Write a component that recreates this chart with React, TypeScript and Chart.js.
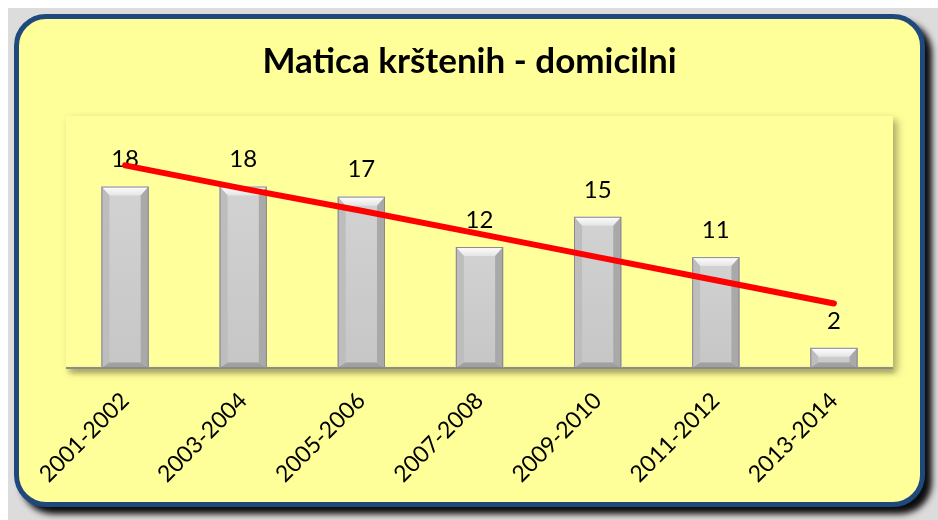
import React, { useEffect, useRef } from "react";
import { Chart, registerables } from "chart.js";

Chart.register(...registerables);

const titleText = "Matica krštenih - domicilni";
const categories = ["2001-2002", "2003-2004", "2005-2006", "2007-2008", "2009-2010", "2011-2012", "2013-2014"];
const values = [18, 18, 17, 12, 15, 11, 2];
const trend = [20.1, 17.8, 15.6, 13.3, 11.0, 8.7, 6.4];
const yMax = 25;

const FONT = "Lato, 'Open Sans', sans-serif";

const titlePlugin = {
  id: "centerTitle",
  afterDraw(chart: any) {
    const ctx = chart.ctx;
    ctx.save();
    ctx.fillStyle = "#000";
    ctx.font = `bold 35px ${FONT}`;
    ctx.textAlign = "center";
    ctx.textBaseline = "middle";
    ctx.fillText(titleText, chart.width / 2, 43);
    ctx.restore();
  },
};

const plotBgPlugin = {
  id: "plotBg",
  beforeDatasetsDraw(chart: any) {
    const { ctx, chartArea: a } = chart;
    ctx.save();
    ctx.shadowColor = "rgba(0,0,0,0.35)";
    ctx.shadowBlur = 8;
    ctx.shadowOffsetX = 4;
    ctx.shadowOffsetY = 4;
    ctx.fillStyle = "#ffff9c";
    ctx.fillRect(a.left, a.top, a.right - a.left, a.bottom - a.top);
    ctx.restore();
    ctx.save();
    ctx.shadowColor = "rgba(0,0,0,0.35)";
    ctx.shadowBlur = 5;
    ctx.shadowOffsetX = 2;
    ctx.shadowOffsetY = 3;
    ctx.strokeStyle = "#8c8c8c";
    ctx.lineWidth = 2;
    ctx.beginPath();
    ctx.moveTo(a.left, a.bottom);
    ctx.lineTo(a.right, a.bottom);
    ctx.stroke();
    ctx.restore();
  },
};

const bevelPlugin = {
  id: "bevel",
  afterDatasetDraw(chart: any, args: any) {
    const meta = args.meta;
    if (meta.type !== "bar") return;
    const ctx = chart.ctx;
    meta.data.forEach((bar: any, i: number) => {
      const { x, y, base, width } = bar.getProps(["x", "y", "base", "width"], true);
      const l = x - width / 2;
      const r = x + width / 2;
      const t = y;
      const b = base;
      const h = b - t;
      const bv = Math.min(9, h / 2.2);
      const bs = Math.min(8, width / 4);
      ctx.save();
      const g = ctx.createLinearGradient(0, t, 0, b);
      g.addColorStop(0, "#d2d2d2");
      g.addColorStop(1, "#c6c6c6");
      ctx.fillStyle = g;
      ctx.fillRect(l, t, width, h);
      const gt = ctx.createLinearGradient(0, t, 0, t + bv);
      gt.addColorStop(0, "#ffffff");
      gt.addColorStop(1, "#e4e4e4");
      ctx.fillStyle = gt;
      ctx.beginPath();
      ctx.moveTo(l, t);
      ctx.lineTo(r, t);
      ctx.lineTo(r - bs, t + bv);
      ctx.lineTo(l + bs, t + bv);
      ctx.closePath();
      ctx.fill();
      ctx.fillStyle = "#bdbdbd";
      ctx.beginPath();
      ctx.moveTo(l, t);
      ctx.lineTo(l + bs, t + bv);
      ctx.lineTo(l + bs, b - bv * 0.6);
      ctx.lineTo(l, b);
      ctx.closePath();
      ctx.fill();
      ctx.fillStyle = "#a9a9a9";
      ctx.beginPath();
      ctx.moveTo(r, t);
      ctx.lineTo(r - bs, t + bv);
      ctx.lineTo(r - bs, b - bv * 0.6);
      ctx.lineTo(r, b);
      ctx.closePath();
      ctx.fill();
      ctx.fillStyle = "#a0a0a0";
      ctx.beginPath();
      ctx.moveTo(l, b);
      ctx.lineTo(l + bs, b - bv * 0.6);
      ctx.lineTo(r - bs, b - bv * 0.6);
      ctx.lineTo(r, b);
      ctx.closePath();
      ctx.fill();
      ctx.strokeStyle = "#8a8a8a";
      ctx.lineWidth = 1;
      ctx.strokeRect(l + 0.5, t + 0.5, width - 1, h - 1);
      ctx.fillStyle = "#000";
      ctx.font = `24px ${FONT}`;
      ctx.textAlign = "center";
      ctx.textBaseline = "middle";
      ctx.fillText(String(values[i]), x, t - 27);
      ctx.restore();
    });
  },
};

export default function App() {
  const ref = useRef<HTMLCanvasElement | null>(null);
  useEffect(() => {
    if (!ref.current) return;
    const chart = new Chart(ref.current, {
      type: "bar",
      data: {
        labels: categories,
        datasets: [
          {
            type: "line",
            data: trend,
            borderColor: "#ff0000",
            borderWidth: 6,
            borderCapStyle: "round",
            pointRadius: 0,
            order: 0,
          } as any,
          {
            type: "bar",
            data: values,
            backgroundColor: "#c8c8c8",
            categoryPercentage: 1,
            barPercentage: 0.4,
            order: 1,
          } as any,
        ],
      },
      options: {
        animation: false,
        responsive: false,
        maintainAspectRatio: false,
        layout: { padding: { left: 47, right: 27, top: 97, bottom: 7 } },
        plugins: {
          legend: { display: false },
          tooltip: { enabled: false },
          title: { display: false },
        },
        scales: {
          x: {
            grid: { display: false, drawTicks: false },
            border: { display: false },
            ticks: {
              color: "#000",
              font: { family: FONT, size: 23 },
              maxRotation: 45,
              minRotation: 45,
              padding: 19,
            },
          },
          y: { display: false, min: 0, max: yMax },
        },
      },
      plugins: [plotBgPlugin, bevelPlugin, titlePlugin],
    });
    return () => chart.destroy();
  }, []);

  return (
    <div style={{ position: "absolute", left: 8, top: 8, width: 930, height: 512, background: "#dcdcdc", overflow: "hidden" }}>
      <div
        style={{
          position: "absolute",
          left: 6,
          top: 6,
          width: 911,
          height: 493,
          boxSizing: "border-box",
          border: "5px solid #1f497d",
          borderRadius: 32,
          background: "#ffff99",
          boxShadow: "7px 7px 6px rgba(0,0,0,0.95)",
        }}
      >
        <canvas ref={ref} width={901} height={495} style={{ position: "absolute", left: 0, top: 0, width: 901, height: 495 }} />
      </div>
    </div>
  );
}
